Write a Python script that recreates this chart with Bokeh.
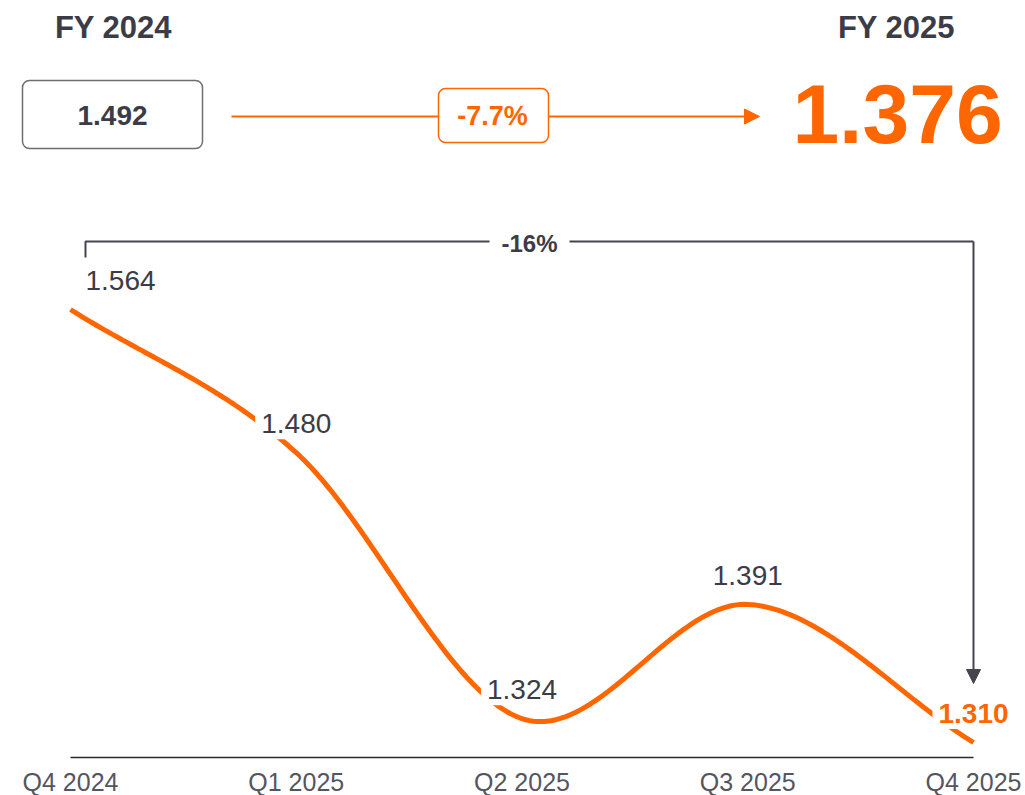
from bokeh.plotting import figure
from bokeh.layouts import column
from bokeh.models import Arrow, NormalHead, ColumnDataSource
from bokeh.core.properties import value
from bokeh.embed import file_html
from bokeh.resources import INLINE

# ---------------- data ----------------
quarters = ["Q4 2024", "Q1 2025", "Q2 2025", "Q3 2025", "Q4 2025"]
values = [1.564, 1.480, 1.324, 1.391, 1.310]
value_labels = ["1.564", "1.480", "1.324", "1.391", "1.310"]
fy_labels = ["FY 2024", "FY 2025"]
fy_values = [1.492, 1.376]
fy_change = "-7.7%"
period_change = "-16%"

FONT = value("Liberation Sans")
ORANGE = "#FF6600"
DARK = "#3c3c46"
GRAY_TXT = "#55555f"

W = 1025
HEAD_H = 200
CHART_H = 795 - HEAD_H

# ---------------- header (pixel space) ----------------
h = figure(width=W, height=HEAD_H, x_range=(0, W), y_range=(HEAD_H, 0),
           output_backend="svg", toolbar_location=None,
           x_axis_location=None, y_axis_location=None, min_border=0)
h.grid.visible = False
h.outline_line_color = None

h.text(x=[113, 896], y=[27, 27], text=fy_labels, text_font=FONT,
       text_font_size="31px", text_font_style="bold", text_color=DARK,
       text_align="center", text_baseline="middle")

# FY2024 box
h.quad(left=[22], right=[202], top=[80], bottom=[148], fill_color="white",
       line_color="#6e6e72", line_width=1.5, border_radius=7)
h.text(x=[112], y=[115], text=[f"{fy_values[0]:.3f}"], text_font=FONT,
       text_font_size="28px", text_font_style="bold", text_color=DARK,
       text_align="center", text_baseline="middle")

# connector line with change box
h.segment(x0=[231], y0=[116], x1=[438], y1=[116], line_color=ORANGE, line_width=2)
h.add_layout(Arrow(x_start=548, y_start=116, x_end=759, y_end=116,
                   line_color=ORANGE, line_width=2,
                   end=NormalHead(size=15, fill_color=ORANGE, line_color=ORANGE)))
h.quad(left=[438], right=[548], top=[88], bottom=[142], fill_color="white",
       line_color=ORANGE, line_width=1.5, border_radius=7)
h.text(x=[492], y=[115], text=[fy_change], text_font=FONT,
       text_font_size="27px", text_font_style="bold", text_color=ORANGE,
       text_align="center", text_baseline="middle")

# FY2025 big value
h.text(x=[897], y=[113], text=[f"{fy_values[1]:.3f}"], text_font=FONT,
       text_font_size="84px", text_font_style="bold", text_color=ORANGE,
       text_align="center", text_baseline="middle")

# ---------------- chart (data space) ----------------
PX_X = 225.75          # pixels per category step
X0_PX = 70             # pixel of first category
K = 433 / 0.254        # pixels per unit of value
Y_REF_PX, Y_REF_V = 309, 1.564   # global pixel row of reference value


def vy(py):
    """global pixel row -> data value"""
    return Y_REF_V - (py - Y_REF_PX) / K


def ix(px):
    return (px - X0_PX) / PX_X


p = figure(width=W, height=CHART_H,
           x_range=(ix(0), ix(W)), y_range=(vy(795), vy(HEAD_H)),
           output_backend="svg", toolbar_location=None,
           x_axis_location=None, y_axis_location=None, min_border=0)
p.grid.visible = False
p.outline_line_color = None

# smooth curve (cubic Hermite / Catmull-Rom through the data points)
n = len(values)
xs_idx = list(range(n))
tang = []
for i in range(n):
    if i == 0:
        tang.append(values[1] - values[0])
    elif i == n - 1:
        tang.append(values[-1] - values[-2])
    else:
        tang.append((values[i + 1] - values[i - 1]) / 2)
cx, cy = [], []
steps = 60
for i in range(n - 1):
    for s in range(steps + (1 if i == n - 2 else 0)):
        t = s / steps
        h00 = 2 * t**3 - 3 * t**2 + 1
        h10 = t**3 - 2 * t**2 + t
        h01 = -2 * t**3 + 3 * t**2
        h11 = t**3 - t**2
        cx.append(i + t)
        cy.append(h00 * values[i] + h10 * tang[i] + h01 * values[i + 1] + h11 * tang[i + 1])
p.line(cx, cy, line_color=ORANGE, line_width=5, line_cap="butt")

# axis baseline and category labels
p.segment(x0=[0], y0=[vy(757)], x1=[n - 1], y1=[vy(757)], line_color="#2b2b2b", line_width=1.5)
p.text(x=xs_idx, y=[vy(781)] * n, text=quarters, text_font=FONT,
       text_font_size="25px", text_color=GRAY_TXT, text_align="center",
       text_baseline="middle")

# value labels (white background cuts the line)
lab_x = [xs_idx[0] + 50 / PX_X] + xs_idx[1:]
lab_y = [v + 29 / K for v in values]
src = ColumnDataSource(dict(x=lab_x[:-1], y=lab_y[:-1], t=value_labels[:-1]))
p.text(x="x", y="y", text="t", source=src, text_font=FONT, text_font_size="28px",
       text_color=DARK, text_align="center", text_baseline="middle",
       background_fill_color="white", padding=6)
p.text(x=[lab_x[-1]], y=[lab_y[-1]], text=[value_labels[-1]], text_font=FONT,
       text_font_size="28px", text_font_style="bold", text_color=ORANGE,
       text_align="center", text_baseline="middle",
       background_fill_color="white", padding=6)

# bracket with period change
bx0 = ix(85)
p.line(x=[bx0, bx0, n - 1], y=[vy(257), vy(241), vy(241)], line_color="#45454d", line_width=2)
p.add_layout(Arrow(x_start=n - 1, y_start=vy(241), x_end=n - 1, y_end=vy(683),
                   line_color="#45454d", line_width=2,
                   end=NormalHead(size=14, fill_color="#45454d", line_color="#45454d")))
p.text(x=[ix(529)], y=[vy(243)], text=[period_change], text_font=FONT,
       text_font_size="24px", text_font_style="bold", text_color=DARK,
       text_align="center", text_baseline="middle",
       background_fill_color="white", padding=12)

layout = column(h, p, spacing=0)
open("out.html", "w").write(file_html(layout, INLINE))
